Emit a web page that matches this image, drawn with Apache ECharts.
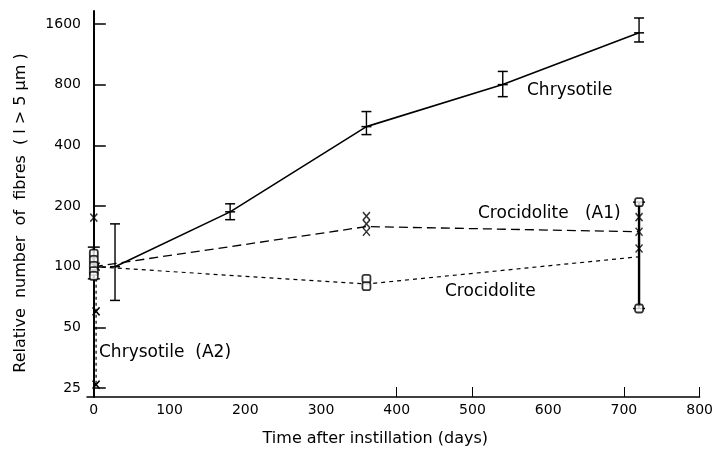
<!DOCTYPE html>
<html>
<head>
<meta charset="utf-8">
<script src="https://cdn.jsdelivr.net/npm/echarts@6/dist/echarts.min.js"></script>
<style>html,body{margin:0;padding:0;background:#fff}#c{width:716px;height:464px}</style>
</head>
<body>
<div id="c"></div>
<script>
// ---- data ----
const xTickLabels = [0, 100, 200, 300, 400, 500, 600, 700, 800];
const xTickMarks = [400, 500, 700, 800];
const yTickLabels = [25, 50, 100, 200, 400, 800, 1600];

const chrysotileDays = [28, 180, 360, 540, 720];
const chrysotileValues = [100, 187, 495, 800, 1445];
const chrysotileLow = [68, 171, 452, 697, 1302];
const chrysotileHigh = [163, 205, 588, 930, 1712];

const crocA1Days = [0, 360, 720];
const crocA1Values = [100, 158, 149];
const crocA1MarkDays = [0, 360, 360, 360, 720, 720, 720];
const crocA1MarkValues = [175, 178, 163, 149, 176, 149, 123];
const crocA1RangeDays = [0];
const crocA1RangeLow = [100];
const crocA1RangeHigh = [175];

const crocDays = [0, 360, 720];
const crocValues = [100, 82, 112];
const crocMarkDays = [0, 0, 0, 0, 0, 360, 360, 720, 720];
const crocMarkValues = [116, 108, 101, 95, 90, 87, 80, 209, 62];
const crocErrDays = [0, 720];
const crocErrLow = [87, 62];
const crocErrHigh = [125, 209];

const a2Days = [3, 3, 3];
const a2Values = [100, 60, 26];

// ---- helpers ----
const L = v => Math.log2(v);
const pts = (xs, ys) => xs.map((x, i) => [x, L(ys[i])]);
const errData = (xs, lo, hi, mid) => xs.map((x, i) => [x, L(lo[i]), L(hi[i]), mid ? L(mid[i]) : NaN]);

function errRender(capW, withMid, lw) {
  return function (params, api) {
    const x = api.value(0);
    const pLo = api.coord([x, api.value(1)]);
    const pHi = api.coord([x, api.value(2)]);
    const st = { stroke: '#000', lineWidth: lw };
    const ch = [{ type: 'line', shape: { x1: pLo[0], y1: pLo[1], x2: pHi[0], y2: pHi[1] }, style: st }];
    if (capW > 0) {
      ch.push({ type: 'line', shape: { x1: pLo[0] - capW / 2, y1: pLo[1], x2: pLo[0] + capW / 2, y2: pLo[1] }, style: { stroke: '#000', lineWidth: 1.5 } });
      ch.push({ type: 'line', shape: { x1: pHi[0] - capW / 2, y1: pHi[1], x2: pHi[0] + capW / 2, y2: pHi[1] }, style: { stroke: '#000', lineWidth: 1.5 } });
      if (withMid && !isNaN(api.value(3))) {
        const pM = api.coord([x, api.value(3)]);
        ch.push({ type: 'line', shape: { x1: pM[0] - capW / 2, y1: pM[1], x2: pM[0] + capW / 2, y2: pM[1] }, style: { stroke: '#000', lineWidth: 1.5 } });
      }
    }
    return { type: 'group', children: ch };
  };
}

const FONT = 'DejaVu Sans';
const chart = echarts.init(document.getElementById('c'), null, { renderer: 'canvas' });
chart.setOption({
  animation: false,
  backgroundColor: '#fff',
  grid: { left: 87, right: 11, top: 11, bottom: 67 },
  xAxis: {
    type: 'value', min: -9, max: 800,
    name: 'Time after instillation (days)', nameLocation: 'middle', nameGap: 34,
    nameTextStyle: { color: '#000', fontFamily: FONT, fontSize: 16, padding: [0, 36, 0, 0] },
    axisLine: { lineStyle: { color: '#000', width: 1.5 } },
    axisTick: { inside: true, length: 10, customValues: xTickMarks, lineStyle: { color: '#000' } },
    axisLabel: { customValues: xTickLabels, color: '#000', fontFamily: FONT, fontSize: 14, margin: 6 },
    splitLine: { show: false }
  },
  yAxis: {
    type: 'value', min: L(25) - 0.148, max: L(1600) + 0.213,
    name: 'Relative  number  of  fibres  ( l > 5 μm )', nameLocation: 'middle', nameGap: 58, nameRotate: 90,
    nameTextStyle: { color: '#000', fontFamily: FONT, fontSize: 16, padding: [0, 18, 0, 0] },
    axisLine: { show: true, lineStyle: { color: '#000', width: 2 } },
    axisTick: { inside: true, length: 12, customValues: yTickLabels.map(L), lineStyle: { color: '#000', width: 1.5 } },
    axisLabel: { customValues: yTickLabels.map(L), color: '#000', fontFamily: FONT, fontSize: 14, margin: 6,
      formatter: v => String(Math.round(Math.pow(2, v))) },
    splitLine: { show: false }
  },
  series: [
    { name: 'Chrysotile', type: 'line', data: pts(chrysotileDays, chrysotileValues), symbol: 'none',
      lineStyle: { color: '#000', width: 1.6 }, z: 3 },
    { name: 'ChrysotileErr', type: 'custom', renderItem: errRender(10, true, 1.4),
      data: errData(chrysotileDays, chrysotileLow, chrysotileHigh, chrysotileValues), z: 4 },
    { name: 'Crocidolite (A1)', type: 'line', data: pts(crocA1Days, crocA1Values), symbol: 'none',
      lineStyle: { color: '#000', width: 1.3, type: [9, 5] }, z: 3 },
    { name: 'A1Range', type: 'custom', renderItem: errRender(0, false, 1.5),
      data: errData(crocA1RangeDays, crocA1RangeLow, crocA1RangeHigh), z: 4 },
    { name: 'A1Marks', type: 'scatter', data: pts(crocA1MarkDays, crocA1MarkValues),
      symbol: 'path://M0,0L10,10M10,0L0,10', symbolSize: [7, 8],
      itemStyle: { color: 'none', borderColor: '#000', borderWidth: 1.5 }, z: 6 },
    { name: 'Crocidolite', type: 'line', data: pts(crocDays, crocValues), symbol: 'none',
      lineStyle: { color: '#000', width: 1.2, type: [4, 4] }, z: 3 },
    { name: 'CrocErr', type: 'custom', renderItem: errRender(12, false, 2.4),
      data: errData(crocErrDays, crocErrLow, crocErrHigh), z: 4 },
    { name: 'CrocMarks', type: 'scatter', data: pts(crocMarkDays, crocMarkValues),
      symbol: 'roundRect', symbolSize: [8, 8],
      itemStyle: { color: '#fff', borderColor: '#000', borderWidth: 1.8 }, z: 7 },
    { name: 'Chrysotile (A2)', type: 'line', data: pts(a2Days, a2Values),
      symbol: 'path://M0,0L10,10M10,0L0,10', symbolSize: [7, 8], showSymbol: true,
      itemStyle: { color: 'none', borderColor: '#000', borderWidth: 1.5 },
      lineStyle: { color: '#000', width: 1.2, type: [3, 3] }, z: 3 }
  ],
  graphic: [
    { type: 'text', left: 527, top: 82, style: { text: 'Chrysotile', font: '17px "DejaVu Sans"', fill: '#000' } },
    { type: 'text', left: 478, top: 205, style: { text: 'Crocidolite   (A1)', font: '17px "DejaVu Sans"', fill: '#000' } },
    { type: 'text', left: 445, top: 283, style: { text: 'Crocidolite', font: '17px "DejaVu Sans"', fill: '#000' } },
    { type: 'text', left: 99, top: 344, style: { text: 'Chrysotile  (A2)', font: '17px "DejaVu Sans"', fill: '#000' } }
  ]
});
</script>
</body>
</html>
